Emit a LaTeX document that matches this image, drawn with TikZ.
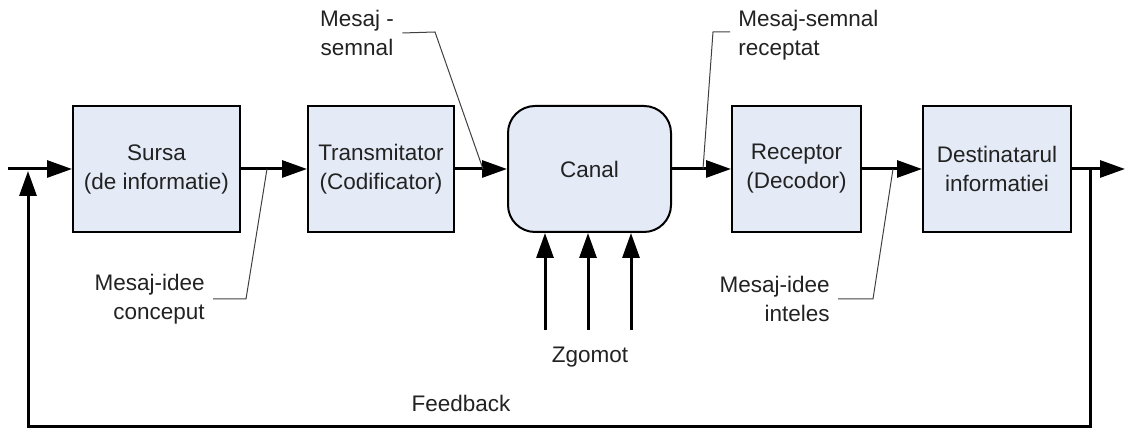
\documentclass[tikz,border=0pt]{standalone}
\usepackage{fontspec}
\setmainfont{Liberation Sans}
\usetikzlibrary{arrows.meta}
\definecolor{boxfill}{HTML}{E4EBF6}
\definecolor{leadc}{HTML}{404040}
\definecolor{txt}{HTML}{222222}
\begin{document}
\begin{tikzpicture}[x=0.5pt,y=-0.5pt,
  txtfont/.style={font=\fontsize{11.25}{14.5}\selectfont, text=txt},
  blk/.style={draw=black, line width=1pt, fill=boxfill, align=center, inner sep=0pt,
    minimum height=63pt, txtfont},
  lbl/.style={inner sep=0pt, txtfont},
  flow/.style={line width=1.5pt, -{Triangle[length=12.5pt,width=8.5pt]}},
  leader/.style={draw=leadc, line width=0.5pt}]
\useasboundingbox (0,0) rectangle (1125,431);

% blocks
\node[blk, minimum width=83.5pt] (src) at (156.5,169) {Sursa\\(de informatie)};
\node[blk, minimum width=73pt] (tx) at (381,169) {Transmitator\\(Codificator)};
\node[blk, minimum width=81.5pt, rounded corners=13.5pt] (ch) at (589.5,169) {Canal};
\node[blk, minimum width=64.5pt] (rx) at (796.5,169) {Receptor\\(Decodor)};
\node[blk, minimum width=74pt] (dst) at (997,169) {Destinatarul\\informatiei};

% labels
\node[lbl, align=center] (lms) at (357,33) {Mesaj -\\semnal};
\node[lbl, align=left, anchor=west] (lmr) at (738,35) {Mesaj-semnal\\receptat};
\node[lbl, align=right, anchor=east] (lic) at (205,299) {Mesaj-idee\\conceput};
\node[lbl, align=right, anchor=east] (lii) at (830,299) {Mesaj-idee\\inteles};
\node[lbl] (zg) at (590,357) {Zgomot};
\node[lbl] (fb) at (461,403) {Feedback};

% coordinates
\coordinate (in) at (8,169);
\coordinate (out) at (1125,169);
\coordinate (fbtop) at (1090,169);
\coordinate (fbr) at (1090,427);
\coordinate (fbl) at (28,427);
\coordinate (fbin) at (28,171);
\coordinate (z1) at (545,330);
\coordinate (z2) at (588,330);
\coordinate (z3) at (631,330);
\coordinate (t1) at (267,169);
\coordinate (t2) at (483,169);
\coordinate (t3) at (703,169);
\coordinate (t4) at (893,169);

% main flow
\draw[flow] (in) -- (src.west);
\draw[flow] (src.east) -- (tx.west);
\draw[flow] (tx.east) -- (ch.west);
\draw[flow] (ch.east) -- (rx.west);
\draw[flow] (rx.east) -- (dst.west);
\draw[flow] (dst.east) -- (out);

% feedback
\draw[flow] (fbtop) -- (fbr) -- (fbl) -- (fbin);

% noise
\draw[flow] (z1) -- (z1 |- ch.south);
\draw[flow] (z2) -- (z2 |- ch.south);
\draw[flow] (z3) -- (z3 |- ch.south);

% leaders
\draw[leader] ([xshift=4pt]lms.east) -- (435,32) -- (t2);
\draw[leader] ([xshift=-4pt,yshift=1.5pt]lmr.west) -- (713,32) -- (t3);
\draw[leader] ([xshift=4pt]lic.east) -- (246,299) -- (t1);
\draw[leader] ([xshift=4pt]lii.east) -- (873,299) -- (t4);
\end{tikzpicture}
\end{document}
